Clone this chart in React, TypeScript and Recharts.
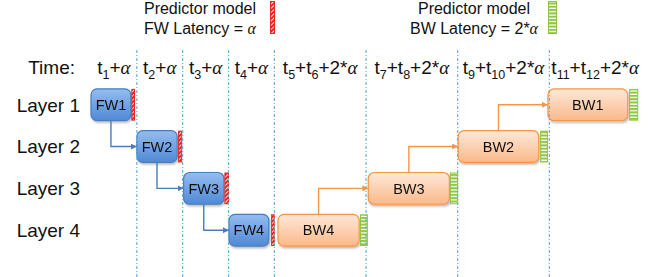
import React from 'react';
import { ComposedChart, XAxis, YAxis, ReferenceLine, ReferenceArea, Line, Scatter, Legend } from 'recharts';

const FONT = '"Liberation Sans", Arial, Helvetica, sans-serif';
const GREEK = '"Liberation Serif", "DejaVu Serif", serif';

// y rows: the "Time:" header row sits just above Layer 1
const TIME_ROW = 0.11;
const rowTicks = [TIME_ROW, 1, 2, 3, 4];
const rowLabels = ['Time:', 'Layer 1', 'Layer 2', 'Layer 3', 'Layer 4'];

// x in alpha slots: a FW slot is 1 wide, a BW slot 2 wide
const slotEdges = [1, 2, 3, 4, 6, 8, 10];
const slotCenters = [0.5, 1.5, 2.5, 3.5, 5, 7, 9, 11];
const slotTerms = [['1'], ['2'], ['3'], ['4'], ['5', '6'], ['7', '8'], ['9', '10'], ['11', '12']];
const slotAlpha = ['', '', '', '', '2*', '2*', '2*', '2*'];

const fwNames = ['FW1', 'FW2', 'FW3', 'FW4'];
const fwLayers = [1, 2, 3, 4];
const fwStart = [0, 1.0, 2.02, 3.01];
const fwEnd = [0.87, 1.88, 2.9, 3.88];
const fwMarkStart = [0.88, 1.9, 2.91, 3.93];
const fwMarkEnd = [0.96, 1.99, 3.01, 4.01];

const bwNames = ['BW4', 'BW3', 'BW2', 'BW1'];
const bwLayers = [4, 3, 2, 1];
const bwStart = [4.08, 6.05, 8.01, 9.97];
const bwEnd = [5.85, 7.82, 9.77, 11.71];
const bwMarkStart = [5.87, 7.83, 9.8, 11.74];
const bwMarkEnd = [6.04, 8.01, 9.97, 11.94];

const legendTitle = 'Predictor model';
const legendLatency = ['FW Latency = ', 'BW Latency = 2*'];

const HALF = 0.38; // half block height, in row units
const BLUE = '#4a7ebb';
const ORANGE = '#f79646';
const INK = '#111';

const headerPts = slotCenters.map((x, i) => ({ x, y: TIME_ROW, terms: slotTerms[i], mult: slotAlpha[i] }));

// elbow connectors: out of block i, into block i+1
const fwLinks = fwNames.slice(0, -1).map((_, i) => {
  const mid = (fwStart[i] + fwEnd[i]) / 2;
  return [{ x: mid, y: fwLayers[i] + HALF }, { x: mid, y: fwLayers[i + 1] }, { x: fwStart[i + 1], y: fwLayers[i + 1] }];
});
const bwLinks = bwNames.slice(0, -1).map((_, i) => {
  const mid = (bwStart[i] + bwEnd[i]) / 2;
  return [{ x: mid, y: bwLayers[i] - HALF }, { x: mid, y: bwLayers[i + 1] }, { x: bwStart[i + 1], y: bwLayers[i + 1] }];
});

function RowTick({ x, y, payload }: any) {
  const i = rowTicks.indexOf(payload.value);
  return (
    <text x={i === 0 ? x - 5 : x} y={y} dy="0.355em" textAnchor="end" fontSize={19} fontFamily={FONT} fill={INK}>
      {rowLabels[i]}
    </text>
  );
}

function SlotLabel({ cx, cy, payload }: any) {
  const parts: React.ReactNode[] = [];
  payload.terms.forEach((s: string, k: number) => {
    parts.push(<tspan key={'t' + k}>t</tspan>);
    parts.push(<tspan key={'s' + k} dy={5} fontSize={12.5}>{s}</tspan>);
    parts.push(<tspan key={'p' + k} dy={-5}>+</tspan>);
  });
  parts.push(<tspan key="m">{payload.mult}</tspan>);
  parts.push(<tspan key="a" fontStyle="italic" fontFamily={GREEK}>α</tspan>);
  return (
    <text x={cx} y={cy} dy="0.355em" textAnchor="middle" fontSize={19} fontFamily={FONT} fill={INK}>{parts}</text>
  );
}

function Block({ x, y, width, height, name, kind }: any) {
  return (
    <g filter="url(#blockShadow)">
      <rect x={x} y={y} width={width} height={height} rx={6} fill={`url(#grad-${kind})`}
        stroke={kind === 'fw' ? BLUE : ORANGE} strokeWidth={1.2} />
      <text x={x + width / 2} y={y + height / 2} dy="0.355em" textAnchor="middle" fontSize={14.5} fontFamily={FONT} fill={INK}>{name}</text>
    </g>
  );
}

function Marker({ x, y, width, height, kind }: any) {
  return (
    <rect x={x + 0.5} y={y + 0.5} width={Math.max(width - 1, 1)} height={height - 1}
      fill={`url(#hatch-${kind})`} stroke={kind === 'fw' ? '#e8262a' : '#8cc63f'} strokeWidth={1} />
  );
}

function LegendBox() {
  const centers = [200, 474];
  const marks = [{ x: 270, w: 4, kind: 'fw' }, { x: 548, w: 8, kind: 'bw' }];
  return (
    <div style={{ width: 665, height: 50 }}>
      <svg width={665} height={50} style={{ display: 'block' }}>
        {centers.map((cx, i) => (
          <g key={i} fontFamily={FONT} fontSize={16} fill={INK}>
            <text x={cx} y={13.5} textAnchor="middle">{legendTitle}</text>
            <text x={cx} y={33.5} textAnchor="middle">
              {legendLatency[i]}<tspan fontStyle="italic" fontFamily={GREEK}>α</tspan>
            </text>
            <Marker x={marks[i].x} y={1} width={marks[i].w + 1} height={33} kind={marks[i].kind} />
          </g>
        ))}
      </svg>
    </div>
  );
}

export default function App() {
  return (
    <div style={{ position: 'absolute', left: 0, top: 0 }}>
      <ComposedChart width={665} height={277} margin={{ top: 0, right: 24, bottom: 0, left: 0 }}>
        <defs>
          <linearGradient id="grad-fw" x1="0" y1="0" x2="0" y2="1">
            <stop offset="0%" stopColor="#94bdf1" />
            <stop offset="100%" stopColor="#5089d6" />
          </linearGradient>
          <linearGradient id="grad-bw" x1="0" y1="0" x2="0" y2="1">
            <stop offset="0%" stopColor="#fee8d8" />
            <stop offset="100%" stopColor="#fab98a" />
          </linearGradient>
          <pattern id="hatch-fw" patternUnits="userSpaceOnUse" width={3} height={3} patternTransform="rotate(45)">
            <rect width={3} height={3} fill="#ffffff" />
            <rect width={2.1} height={3} fill="#e8262a" />
          </pattern>
          <pattern id="hatch-bw" patternUnits="userSpaceOnUse" width={10} height={3.3}>
            <rect width={10} height={3.3} fill="#8cc63f" />
            <rect y={1.2} width={10} height={1.3} fill="#ffffff" />
          </pattern>
          <filter id="blockShadow" x="-10%" y="-10%" width="130%" height="140%">
            <feDropShadow dx={1} dy={1.5} stdDeviation={1} floodColor="#000" floodOpacity={0.3} />
          </filter>
          <marker id="arrow-fw" viewBox="0 0 10 10" refX={10} refY={5} markerWidth={6} markerHeight={6} markerUnits="userSpaceOnUse" orient="auto">
            <path d="M0,0 L10,5 L0,10 z" fill={BLUE} />
          </marker>
          <marker id="arrow-bw" viewBox="0 0 10 10" refX={10} refY={5} markerWidth={6} markerHeight={6} markerUnits="userSpaceOnUse" orient="auto">
            <path d="M0,0 L10,5 L0,10 z" fill={ORANGE} />
          </marker>
        </defs>
        <XAxis type="number" dataKey="x" domain={[0, 12]} allowDataOverflow hide />
        <YAxis type="number" dataKey="y" domain={[-0.31, 5.12]} reversed allowDataOverflow ticks={rowTicks} interval={0}
          axisLine={false} tickLine={false} tickSize={0} tickMargin={11} width={91} tick={<RowTick />} />
        <Legend verticalAlign="top" align="left" content={() => <LegendBox />} wrapperStyle={{ left: 0, top: 0 }} />
        {slotEdges.map((x) => (
          <ReferenceLine key={x} x={x} stroke="#62b5d4" strokeWidth={1.2} strokeDasharray="3 2 1 2" ifOverflow="visible" />
        ))}
        {fwLinks.map((pts, i) => (
          <Line key={'fl' + i} data={pts} dataKey="y" type="linear" stroke={BLUE} strokeWidth={1.4} dot={false}
            markerEnd="url(#arrow-fw)" isAnimationActive={false} legendType="none" />
        ))}
        {bwLinks.map((pts, i) => (
          <Line key={'bl' + i} data={pts} dataKey="y" type="linear" stroke={ORANGE} strokeWidth={1.4} dot={false}
            markerEnd="url(#arrow-bw)" isAnimationActive={false} legendType="none" />
        ))}
        {fwNames.map((name, i) => (
          <ReferenceArea key={name} x1={fwStart[i]} x2={fwEnd[i]} y1={fwLayers[i] - HALF} y2={fwLayers[i] + HALF} ifOverflow="visible"
            shape={(p: any) => <Block {...p} name={name} kind="fw" />} />
        ))}
        {fwNames.map((name, i) => (
          <ReferenceArea key={name + 'm'} x1={fwMarkStart[i]} x2={fwMarkEnd[i]} y1={fwLayers[i] - HALF} y2={fwLayers[i] + HALF} ifOverflow="visible"
            shape={(p: any) => <Marker {...p} kind="fw" />} />
        ))}
        {bwNames.map((name, i) => (
          <ReferenceArea key={name} x1={bwStart[i]} x2={bwEnd[i]} y1={bwLayers[i] - HALF} y2={bwLayers[i] + HALF} ifOverflow="visible"
            shape={(p: any) => <Block {...p} name={name} kind="bw" />} />
        ))}
        {bwNames.map((name, i) => (
          <ReferenceArea key={name + 'm'} x1={bwMarkStart[i]} x2={bwMarkEnd[i]} y1={bwLayers[i] - HALF} y2={bwLayers[i] + HALF} ifOverflow="visible"
            shape={(p: any) => <Marker {...p} kind="bw" />} />
        ))}
        <Scatter data={headerPts} shape={(p: any) => <SlotLabel {...p} />} isAnimationActive={false} legendType="none" />
      </ComposedChart>
    </div>
  );
}
